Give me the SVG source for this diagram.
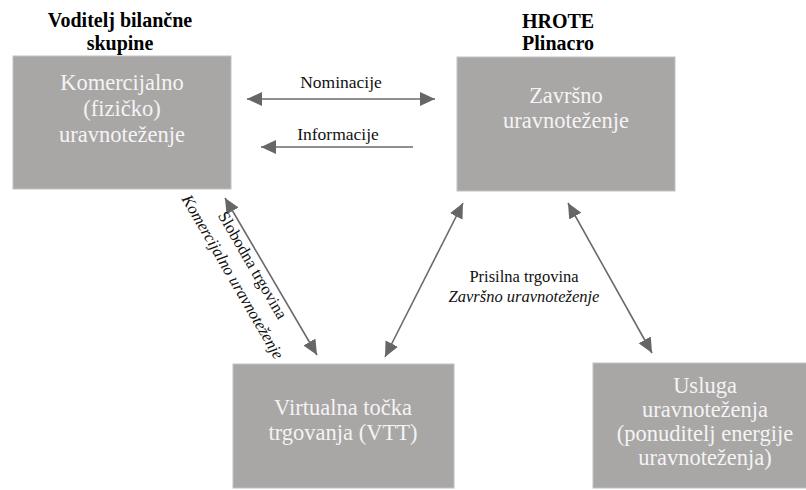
<svg xmlns="http://www.w3.org/2000/svg" width="806" height="490" viewBox="0 0 806 490">
<style>
text{font-family:'Liberation Serif','Times New Roman',Times,'DejaVu Serif',serif}
.box{fill:#a9a6a6;stroke:#c4c1c1;stroke-width:1}
.bt{font-size:22.5px;fill:#f4f4f4;text-anchor:middle}
.hd{font-size:20px;font-weight:bold;fill:#000;text-anchor:middle}
.lb{font-size:16.5px;fill:#111;text-anchor:middle}
.lg{font-size:17.5px}
.it{font-style:italic}
.cn{stroke:#6a6a6a;stroke-width:1.6;fill:none;marker-end:url(#ah)}
.bi{marker-start:url(#ah)}
</style>
<defs>
<marker id="ah" markerUnits="userSpaceOnUse" markerWidth="16" markerHeight="16" refX="15" refY="7" orient="auto-start-reverse">
<path d="M0,0 L15,7 L0,14 z" fill="#666"/>
</marker>
</defs>
<g id="labels">
<text class="hd" x="120" y="27">Voditelj bilančne</text>
<text class="hd" x="120" y="50">skupine</text>
<text class="hd" x="558" y="28">HROTE</text>
<text class="hd" x="558" y="50">Plinacro</text>
</g>
<g id="n1">
<rect class="box" x="13" y="56" width="218" height="133"/>
<text class="bt" x="122" y="90">Komercijalno</text>
<text class="bt" x="122" y="116">(fizičko)</text>
<text class="bt" x="122" y="142">uravnoteženje</text>
</g>
<g id="n2">
<rect class="box" x="457" y="57" width="218" height="134"/>
<text class="bt" x="566" y="103">Završno</text>
<text class="bt" x="566" y="128">uravnoteženje</text>
</g>
<g id="n3">
<rect class="box" x="233" y="364" width="221" height="124"/>
<text class="bt" x="343" y="415">Virtualna točka</text>
<text class="bt" x="343" y="440">trgovanja (VTT)</text>
</g>
<g id="n4">
<rect class="box" x="593" y="363" width="224" height="125"/>
<text class="bt" x="705" y="393">Usluga</text>
<text class="bt" x="705" y="417">uravnoteženja</text>
<text class="bt" x="705" y="441">(ponuditelj energije</text>
<text class="bt" x="705" y="465">uravnoteženja)</text>
</g>
<g id="connectors">
<line class="cn bi" x1="247" y1="99" x2="435" y2="99"/>
<line class="cn" x1="413" y1="147" x2="261" y2="147"/>
<line class="cn bi" x1="225" y1="198" x2="317" y2="355"/>
<line class="cn bi" x1="463" y1="203" x2="385" y2="357"/>
<line class="cn bi" x1="568" y1="203" x2="652" y2="353"/>
<text class="lb lg" x="341" y="88">Nominacije</text>
<text class="lb lg" x="338" y="140">Informacije</text>
<g transform="translate(248,268) rotate(59.9)">
<text class="lb" x="0" y="0">Slobodna trgovina</text>
<text class="lb it" x="0" y="23">Komercijalno uravnoteženje</text>
</g>
<text class="lb" x="524" y="282">Prisilna trgovina</text>
<text class="lb it" x="524" y="302">Završno uravnoteženje</text>
</g>
</svg>
